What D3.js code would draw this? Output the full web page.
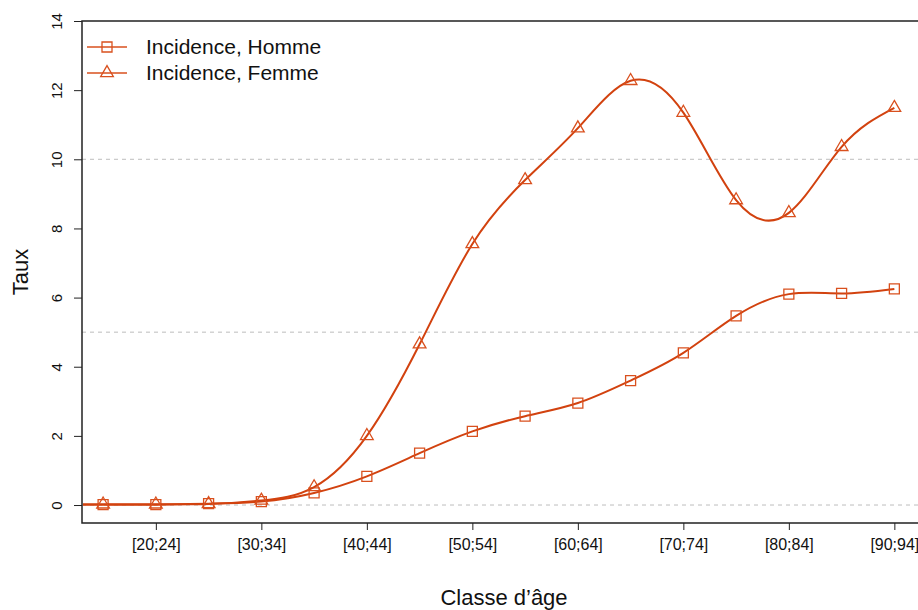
<!DOCTYPE html>
<html lang="fr">
<head>
  <meta charset="UTF-8">
  <title>Incidence par classe d'âge</title>
  <script src="https://d3js.org/d3.v7.min.js"></script>
  <style>
    body { margin: 0; background: #fff; }
    svg { font-family: "Liberation Sans", Arial, Helvetica, sans-serif; }
    .grid line { stroke: #bdbdbd; stroke-dasharray: 4,4; stroke-width: 1; }
    .axis path, .axis line { stroke: #222; }
    .serie { fill: none; stroke: #d2420f; stroke-width: 2; }
    .marker { fill: none; stroke: #d9501e; stroke-width: 1.3; }
  </style>
</head>
<body>
  <div id="chart"></div>
  <script>
    // classes d'age
    const classes = ["[15;19]", "[20;24]", "[25;29]", "[30;34]", "[35;39]", "[40;44]",
                     "[45;49]", "[50;54]", "[55;59]", "[60;64]", "[65;69]", "[70;74]",
                     "[75;79]", "[80;84]", "[85;89]", "[90;94]"];
    // taux
    const homme = [0.01, 0.01, 0.04, 0.10, 0.35, 0.83, 1.50, 2.13, 2.57, 2.95, 3.60, 4.40,
                   5.47, 6.10, 6.12, 6.25];
    const femme = [0.02, 0.02, 0.03, 0.13, 0.52, 2.00, 4.65, 7.55, 9.40, 10.90, 12.27, 11.35,
                   8.82, 8.45, 10.36, 11.49];
    const yTicks = [0, 2, 4, 6, 8, 10, 12, 14];
    const gridValues = [0, 5, 10];
    const xLabelled = ["[20;24]", "[30;34]", "[40;44]", "[50;54]", "[60;64]", "[70;74]", "[80;84]", "[90;94]"];
    const legendLabels = ["Incidence, Homme", "Incidence, Femme"];

    const W = 918, H = 610;
    const pLeft = 82, pRight = 926, pTop = 21, pBottom = 523;

    const svg = d3.select("#chart").append("svg")
      .attr("width", W).attr("height", H);

    const x = d3.scaleLinear().domain([-0.4, 15.6]).range([pLeft, pRight]);
    const y = d3.scaleLinear().domain([-0.52, 14]).range([pBottom, pTop]);

    // grille pointillee
    svg.append("g").attr("class", "grid")
      .selectAll("line").data(gridValues).enter().append("line")
      .attr("x1", pLeft).attr("x2", pRight)
      .attr("y1", d => y(d)).attr("y2", d => y(d));

    // cadre
    svg.append("path")
      .attr("d", `M${pRight},${pTop}H${pLeft}V${pBottom}H${pRight}`)
      .attr("fill", "none").attr("stroke", "#222").attr("stroke-width", 1.5);

    // axe x : etiquettes une classe sur deux
    const xAxis = svg.append("g").attr("class", "axis")
      .attr("transform", `translate(0,${pBottom})`)
      .call(d3.axisBottom(x)
        .tickValues(xLabelled.map(l => classes.indexOf(l)))
        .tickFormat(i => classes[i])
        .tickSize(7).tickPadding(9));
    xAxis.select(".domain").remove();
    xAxis.selectAll("text").attr("font-size", 16).attr("fill", "#111")
      .attr("font-family", "Liberation Sans, Arial, sans-serif");

    // axe y
    const yAxis = svg.append("g").attr("class", "axis")
      .attr("transform", `translate(${pLeft},0)`)
      .call(d3.axisLeft(y).tickValues(yTicks).tickSize(8));
    yAxis.select(".domain").remove();
    yAxis.selectAll(".tick text")
      .attr("font-size", 15).attr("fill", "#111")
      .attr("font-family", "Liberation Sans, Arial, sans-serif")
      .attr("text-anchor", "middle")
      .attr("x", 0).attr("y", -20).attr("dy", 0)
      .attr("transform", "rotate(-90)");

    // titres d'axes
    svg.append("text")
      .attr("x", (pLeft + pRight) / 2).attr("y", 605)
      .attr("text-anchor", "middle").attr("font-size", 22).attr("fill", "#111")
      .text("Classe d\u2019\u00e2ge");
    svg.append("text")
      .attr("transform", `translate(28,${(pTop + pBottom) / 2}) rotate(-90)`)
      .attr("text-anchor", "middle").attr("font-size", 22).attr("fill", "#111")
      .text("Taux");

    const line = d3.line()
      .x((d, i) => x(i))
      .y(d => y(d))
      .curve(d3.curveNatural);

    const square = d3.symbol().type(d3.symbolSquare).size(100);
    const triangle = d3.symbol().type(d3.symbolTriangle).size(70);

    function drawSerie(values, sym) {
      // petit prolongement jusqu'au bord gauche
      svg.append("line").attr("class", "serie")
        .attr("x1", pLeft + 1).attr("x2", x(0))
        .attr("y1", y(values[0])).attr("y2", y(values[0]));
      svg.append("path").datum(values).attr("class", "serie").attr("d", line);
      svg.selectAll(null).data(values).enter().append("path")
        .attr("class", "marker")
        .attr("d", sym)
        .attr("transform", (d, i) => `translate(${x(i)},${y(d)})`);
    }
    drawSerie(homme, square);
    drawSerie(femme, triangle);

    // legende
    const leg = svg.append("g");
    [square, triangle].forEach((sym, k) => {
      const ly = 47 + k * 26;
      leg.append("line").attr("x1", 87).attr("x2", 127).attr("y1", ly).attr("y2", ly)
        .attr("stroke", "#d9501e").attr("stroke-width", 1.3);
      leg.append("path").attr("class", "marker").attr("d", sym)
        .attr("transform", `translate(107,${ly})`);
      leg.append("text").attr("x", 146).attr("y", ly + 7)
        .attr("font-size", 21).attr("fill", "#111")
        .text(legendLabels[k]);
    });
  </script>
</body>
</html>
